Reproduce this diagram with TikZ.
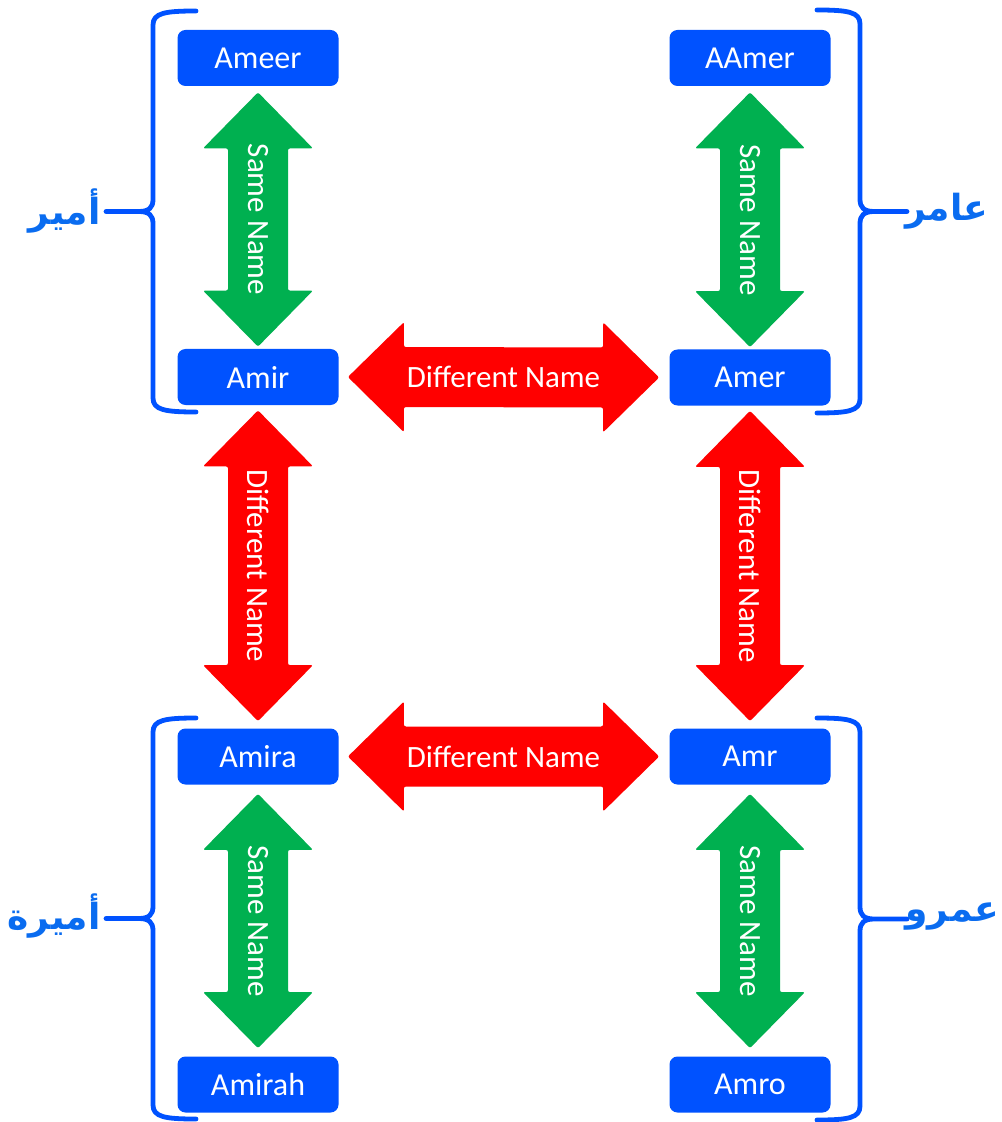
\documentclass[tikz,border=0pt]{standalone}
\usepackage{fontspec}
\setmainfont{Carlito}
\newfontfamily\arabicfont[Script=Arabic]{DejaVu Sans}
\TeXXeTstate=1
\usetikzlibrary{calc}
\definecolor{boxblue}{RGB}{0,82,255}
\definecolor{arblue}{RGB}{10,108,240}
\definecolor{samegreen}{RGB}{0,176,80}
\definecolor{diffred}{RGB}{255,0,0}
\tikzset{
    namebox/.style={fill=boxblue, text=white, rounded corners=4pt, minimum width=80.5pt, minimum height=28pt, inner sep=0pt, font=\fontsize{16}{19}\selectfont},
    arrowtxt/.style={text=white, inner sep=0pt, font=\fontsize{15.5}{18}\selectfont},
    arname/.style={text=arblue, inner sep=0pt, font=\arabicfont\bfseries\fontsize{18}{21}\selectfont},
    brc/.style={draw=boxblue, line width=2.4pt, line cap=round, line join=round}
}
% #1 name, #2 from, #3 to, #4 colour, #5 text rotation, #6 text
\newcommand{\dblarrow}[6]{
    \coordinate (s) at #2; \coordinate (e) at #3;
    \coordinate (hs) at ($(s)!28pt!(e)$);
    \coordinate (he) at ($(e)!28pt!(s)$);
    \fill[#4, rounded corners=1pt](s)--($(hs)!27.5pt!90:(e)$)--($(hs)!15pt!90:(e)$)--($(he)!15pt!-90:(s)$)--($(he)!27.5pt!-90:(s)$)
        --(e)--($(he)!27.5pt!90:(s)$)--($(he)!15pt!90:(s)$)--($(hs)!15pt!-90:(e)$)--($(hs)!27.5pt!-90:(e)$)--cycle;
    \node[arrowtxt, rotate=#5](#1) at ($(s)!.5!(e)$){#6};
}
% #1 x of spine, #2 top, #3 bottom, #4 side (1: ends right, -1: ends left)
\newcommand{\brc}[4]{
    \begin{scope}[shift={(#1, 0)}, xscale=#4]
        \draw[brc](43, #2)..controls(12, #2)and(0, {#2+2})..(0, {#2+14})--(0, {(#2+#3)/2-12})
            ..controls(0, {(#2+#3)/2-4})and(-4, {(#2+#3)/2})..(-14, {(#2+#3)/2})--(-47, {(#2+#3)/2})
            --(-14, {(#2+#3)/2})..controls(-4, {(#2+#3)/2})and(0, {(#2+#3)/2+4})..(0, {(#2+#3)/2+12})
            --(0, {#3-14})..controls(0, {#3-2})and(12, #3)..(43, #3);
    \end{scope}
}

\begin{document}
\begin{tikzpicture}[x=.5pt, y=-.5pt]
    \useasboundingbox(0, 0)rectangle(1001, 1122);
    % names
    \node[namebox](ameer) at (258, 58){Ameer};
    \node[namebox](amir) at (258, 377){Amir};
    \node[namebox](aamer) at (750, 58){AAmer};
    \node[namebox](amer) at (750, 377.5){Amer};
    \node[namebox](amira) at (258, 756.5){Amira};
    \node[namebox](amr) at (750, 756.5){Amr};
    \node[namebox](amirah) at (258, 1084.5){Amirah};
    \node[namebox](amro) at (750, 1084.5){Amro};
    % same name
    \dblarrow{sameA}{($(ameer.south)+(0, 6)$)}{($(amir.north)+(0, -2)$)}{samegreen}{-90}{Same Name}
    \dblarrow{sameB}{($(aamer.south)+(0, 6)$)}{($(amer.north)+(0, -2)$)}{samegreen}{-90}{Same Name}
    \dblarrow{sameC}{($(amira.south)+(0, 9)$)}{($(amirah.north)+(0, -8)$)}{samegreen}{-90}{Same Name}
    \dblarrow{sameD}{($(amr.south)+(0, 9)$)}{($(amro.north)+(0, -8)$)}{samegreen}{-90}{Same Name}
    % different name
    \dblarrow{diffA}{($(amir.east)+(9, 0)$)}{($(amer.west)+(-10, 0)$)}{diffred}{0}{Different Name}
    \dblarrow{diffB}{($(amira.east)+(9, 0)$)}{($(amr.west)+(-10, 0)$)}{diffred}{0}{Different Name}
    \dblarrow{diffC}{($(amir.south)+(0, 5)$)}{($(amira.north)+(0, -7)$)}{diffred}{-90}{Different Name}
    \dblarrow{diffD}{($(amer.south)+(0, 5)$)}{($(amr.north)+(0, -7)$)}{diffred}{-90}{Different Name}
    % braces
    \brc{153}{11}{412}{1}
    \brc{860}{10}{413}{-1}
    \brc{153}{718}{1119}{1}
    \brc{860}{718}{1120}{-1}
    \node[arname, anchor=east](amirAr) at (101, 211){\beginR أمير\endR};
    \node[arname, anchor=west](amerAr) at (905, 211){\beginR عامر\endR};
    \node[arname, anchor=east](amiraAr) at (101, 916){\beginR أميرة\endR};
    \node[arname, anchor=west](amrAr) at (905, 917){\beginR عمرو\endR};
\end{tikzpicture}
\end{document}
